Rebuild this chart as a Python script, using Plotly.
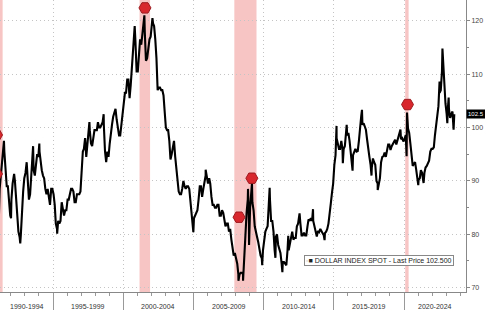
import pandas as pd
import plotly.graph_objects as go

# ---------------- data ----------------
series_name = "DOLLAR INDEX SPOT - Last Price 102.500"
last_price_tag = "102.5"
first_month = "1991-01-01"
dxy_monthly = [
    # 1991
    84.0, 81.0, 88.5, 91.5, 92.5, 96.0, 95.5, 92.5, 89.0, 89.0, 86.0, 83.5,
    # 1992
    86.5, 89.5, 91.0, 90.0, 87.0, 83.5, 80.5, 79.5, 79.8, 84.5, 88.0, 90.5,
    # 1993
    91.5, 93.5, 90.0, 86.5, 87.5, 91.5, 94.5, 92.0, 91.0, 93.0, 95.0, 94.5,
    # 1994
    95.5, 93.5, 92.0, 91.0, 90.5, 88.5, 87.5, 88.5, 87.0, 85.5, 88.5, 88.5,
    # 1995
    87.5, 85.5, 82.0, 81.0, 82.5, 82.0, 82.5, 86.0, 85.0, 83.5, 84.5, 84.5,
    # 1996
    86.5, 86.5, 87.5, 88.5, 88.5, 88.0, 86.0, 86.0, 87.5, 87.5, 87.5, 88.0,
    # 1997
    91.5, 95.5, 96.0, 98.0, 94.5, 96.5, 99.5, 99.5, 97.0, 96.5, 98.5, 99.5,
    # 1998
    99.5, 99.5, 101.0, 100.0, 100.0, 100.5, 101.0, 100.5, 95.5, 93.5, 95.5, 94.5,
    # 1999
    97.0, 99.5, 100.5, 102.0, 103.0, 103.5, 101.5, 99.5, 98.5, 98.5, 100.5, 101.5,
    # 2000
    104.0, 106.5, 106.5, 109.0, 109.0, 105.5, 108.0, 111.5, 114.0, 117.5, 116.0, 110.5,
    # 2001
    110.5, 113.5, 116.5, 115.5, 118.0, 119.5, 118.0, 112.5, 113.0, 115.0, 116.5, 117.0,
    # 2002
    119.0, 119.5, 119.0, 116.5, 113.0, 107.0, 107.5, 107.5, 107.0, 107.0, 106.0, 103.0,
    # 2003
    100.0, 99.5, 99.5, 97.5, 94.0, 95.0, 96.5, 97.5, 94.5, 92.5, 91.0, 88.0,
    # 2004
    87.5, 87.5, 88.5, 90.0, 89.0, 88.5, 89.0, 89.0, 88.5, 86.0, 83.5, 81.5,
    # 2005
    83.0, 83.5, 84.0, 84.5, 86.5, 89.0, 89.0, 87.0, 88.5, 89.5, 91.0, 90.5,
    # 2006
    89.5, 90.5, 89.5, 87.0, 85.5, 85.5, 85.0, 85.0, 85.5, 85.5, 83.5, 83.5,
    # 2007
    84.5, 84.0, 83.0, 81.5, 82.0, 82.0, 80.5, 81.0, 79.0, 77.0, 76.0, 76.5,
    # 2008
    75.5, 74.5, 72.5, 72.5, 72.8, 72.8, 72.5, 76.0, 78.5, 84.0, 86.5, 82.5,
    # 2009
    85.0, 87.5, 86.0, 84.5, 81.5, 80.0, 79.5, 78.5, 77.0, 76.0, 75.5, 77.0,
    # 2010
    79.0, 80.5, 81.0, 81.5, 85.5, 86.5, 82.5, 82.5, 80.5, 77.0, 79.5, 80.0,
    # 2011
    78.0, 77.0, 76.5, 74.5, 74.8, 74.8, 74.5, 74.2, 77.0, 77.0, 78.0, 79.5,
    # 2012
    80.5, 79.0, 79.3, 79.3, 81.5, 82.0, 83.0, 82.0, 79.8, 79.8, 80.3, 79.8,
    # 2013
    79.8, 81.5, 82.8, 82.5, 83.0, 82.5, 82.5, 81.5, 80.5, 79.6, 80.6, 80.4,
    # 2014
    81.0, 80.5, 80.0, 79.8, 80.2, 80.5, 81.0, 82.0, 84.8, 85.8, 87.8, 89.5,
    # 2015
    93.0, 94.8, 98.0, 97.0, 96.0, 96.0, 97.5, 96.0, 96.0, 96.5, 99.0, 98.5,
    # 2016
    99.0, 97.5, 95.5, 93.8, 94.8, 95.5, 96.0, 95.5, 95.6, 97.5, 100.5, 102.2,
    # 2017
    100.5, 100.8, 100.2, 99.6, 97.8, 96.5, 94.5, 93.0, 92.5, 94.2, 93.5, 93.0,
    # 2018
    90.0, 89.5, 89.8, 90.5, 93.5, 94.5, 94.6, 95.3, 94.5, 96.0, 96.8, 96.8,
    # 2019
    95.8, 96.5, 96.8, 97.2, 97.7, 96.8, 97.5, 98.3, 98.8, 97.8, 98.0, 97.4,
    # 2020
    97.8, 98.6, 99.5, 99.8, 99.0, 97.0, 94.5, 92.8, 93.2, 93.5, 92.0, 90.5,
    # 2021
    90.2, 90.5, 92.0, 91.5, 90.0, 91.5, 92.5, 92.8, 93.5, 93.8, 95.5, 96.0,
    # 2022
    96.0, 96.3, 98.5, 100.5, 103.0, 104.0, 106.5, 107.0, 110.5, 112.0, 107.0, 104.5,
    # 2023
    102.5, 103.5, 103.5, 101.8, 102.5, 103.0, 101.0,
]
spike_dates = [
    "1991-07-05", "1992-01-05", "1992-03-25", "1992-09-01", "1993-08-01", "1994-01-10",
    "1995-04-19", "1997-08-05", "1998-08-11", "2000-10-26", "2001-07-05", "2002-01-31",
    "2004-12-30", "2005-11-15", "2008-03-17", "2008-07-15", "2008-11-21", "2008-12-18",
    "2009-03-04", "2009-11-25", "2010-06-07", "2010-11-04", "2011-05-04", "2011-10-04",
    "2012-07-24", "2013-07-09", "2014-05-06", "2015-03-13", "2015-08-24", "2015-12-02",
    "2016-05-03", "2017-01-03", "2017-09-08", "2018-02-16", "2019-10-01", "2020-03-09",
    "2020-03-19", "2021-01-06", "2021-05-25", "2022-07-14", "2022-09-27", "2022-11-10",
    "2023-02-01", "2023-03-08", "2023-07-14", "2023-08-01",
]
spike_values = [
    97.5, 83.0, 91.3, 78.3, 96.5, 97.0,
    80.1, 101.0, 102.5, 119.0, 121.0, 120.5,
    80.4, 92.1, 71.3, 71.3, 88.5, 78.0,
    89.6, 74.2, 88.7, 75.6, 72.9, 79.7,
    83.9, 84.7, 78.9, 100.3, 93.3, 100.5,
    91.9, 103.3, 91.0, 88.3, 99.6, 94.6,
    102.8, 89.2, 89.6, 108.6, 114.8, 107.5,
    100.8, 105.6, 99.6, 102.5,
]
recession_start = ["1990-07-01", "2001-03-01", "2007-12-01", "2020-02-01"]
recession_end = ["1991-06-01", "2001-11-30", "2009-06-30", "2020-04-30"]
event_dates = ["1990-12-24", "1990-12-24", "2001-07-20", "2008-04-01", "2009-03-01", "2020-04-01"]
event_values = [98.6, 91.3, 122.4, 83.2, 90.5, 104.3]
period_starts = ["1990-01-01", "1995-01-01", "2000-01-01", "2005-01-01", "2010-01-01", "2015-01-01", "2020-01-01"]
period_labels = ["1990-1994", "1995-1999", "2000-2004", "2005-2009", "2010-2014", "2015-2019", "2020-2024"]
period_ends = ["1995-01-01", "2000-01-01", "2005-01-01", "2010-01-01", "2015-01-01", "2020-01-01", "2025-01-01"]
y_ticks = [70, 80, 90, 100, 110, 120]
x_range = ["1991-03-24", "2024-06-01"]
y_range = [69.19, 123.88]

# ---------------- build series ----------------
mdates = pd.date_range(first_month, periods=len(dxy_monthly), freq="MS") + pd.Timedelta(days=14)
s = pd.concat([
    pd.Series(dxy_monthly, index=mdates),
    pd.Series(spike_values, index=pd.to_datetime(spike_dates)),
]).sort_index()

FONT = "Arial, Liberation Sans, sans-serif"
GRID = "#c4c4c4"
fig = go.Figure()

fig.add_trace(go.Scatter(
    x=s.index, y=s.values, mode="lines", name=series_name,
    line=dict(color="black", width=2.1), showlegend=False,
))
fig.add_trace(go.Scatter(
    x=pd.to_datetime(event_dates), y=event_values, mode="markers",
    marker=dict(symbol="hexagon2", size=12, color="#d8272d",
                line=dict(color="#9c1b1f", width=1)),
    showlegend=False, hoverinfo="skip",
))

for a, b in zip(recession_start, recession_end):
    fig.add_shape(type="rect", xref="x", yref="paper", x0=a, x1=b, y0=0, y1=1,
                  fillcolor="rgba(243,150,150,0.55)", line=dict(width=0), layer="below")

# period labels centered on the visible part of each 5-year bin
xr0, xr1 = pd.Timestamp(x_range[0]), pd.Timestamp(x_range[1])
for st, en, lab in zip(period_starts, period_ends, period_labels):
    a = max(pd.Timestamp(st), xr0)
    b = min(pd.Timestamp(en), xr1)
    mid = a + (b - a) / 2
    fig.add_annotation(x=mid, xref="x", y=0, yref="paper", yanchor="middle",
                       yshift=-14, text=lab, showarrow=False,
                       font=dict(family=FONT, size=7, color="#333"))

fig.add_annotation(x=1, xref="paper", y=102.5, yref="y", xanchor="left", xshift=0,
                   text=last_price_tag, showarrow=False, bgcolor="black",
                   font=dict(family=FONT, size=6, color="white"), borderpad=1)

fig.add_annotation(x=0.814, xref="paper", y=0.108, yref="paper",
                   xanchor="center", yanchor="middle",
                   text="<span style='color:#bbb'>▫</span>■ " + series_name,
                   showarrow=False, bgcolor="white", bordercolor="#888", borderwidth=1,
                   borderpad=1, font=dict(family=FONT, size=7, color="#222"))

fig.update_layout(
    width=485, height=310,
    margin=dict(l=0, r=19, t=0, b=18),
    paper_bgcolor="white", plot_bgcolor="white",
    font=dict(family=FONT, size=7, color="#444"),
    showlegend=False,
    xaxis=dict(
        type="date", range=x_range,
        tickvals=period_starts[1:], ticks="outside", ticklen=18, tickcolor="#999",
        showticklabels=False,
        showgrid=True, gridcolor=GRID, griddash="1px,3px", gridwidth=1,
        showline=True, linecolor="#888", linewidth=1,
        minor=dict(dtick="M12", tick0="1991-01-01", ticks="outside", ticklen=3,
                   tickcolor="#999", showgrid=False),
        zeroline=False,
    ),
    yaxis=dict(
        side="right", range=y_range, tickvals=y_ticks,
        ticks="outside", ticklen=3, tickcolor="#888",
        showgrid=True, gridcolor=GRID, griddash="1px,3px", gridwidth=1,
        showline=True, linecolor="#888", linewidth=1,
        tickfont=dict(family=FONT, size=7, color="#444"),
        minor=dict(dtick=5, ticks="outside", ticklen=2, tickcolor="#888", showgrid=False),
        zeroline=False,
    ),
)

fig.write_html("out.html")
